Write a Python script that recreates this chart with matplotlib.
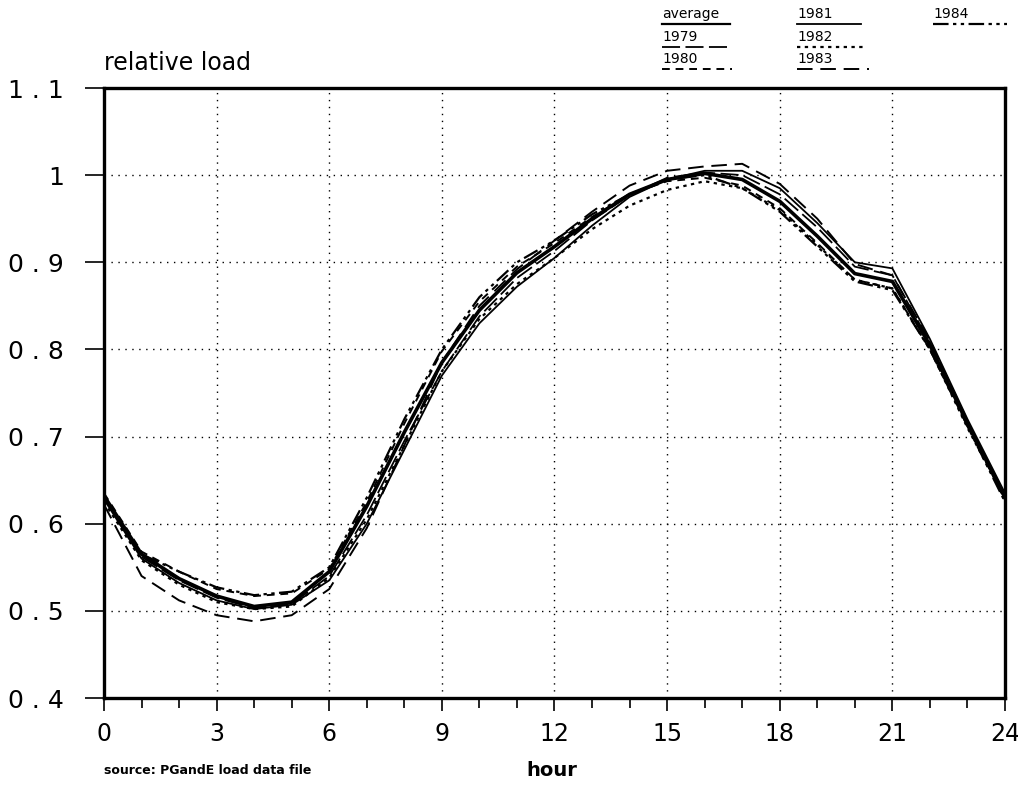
import matplotlib
matplotlib.use("Agg")
import matplotlib.pyplot as plt
from matplotlib.lines import Line2D
from matplotlib.ticker import MultipleLocator

hours = list(range(25))
average = [0.632, 0.565, 0.537, 0.517, 0.505, 0.510, 0.545, 0.620, 0.705, 0.785, 0.845, 0.888, 0.918,
           0.950, 0.978, 0.995, 1.002, 0.995, 0.970, 0.930, 0.887, 0.878, 0.805, 0.715, 0.630]
y1979 = [0.630, 0.562, 0.535, 0.515, 0.503, 0.508, 0.540, 0.610, 0.695, 0.775, 0.838, 0.882, 0.913,
         0.948, 0.977, 0.997, 1.003, 1.000, 0.978, 0.940, 0.895, 0.885, 0.808, 0.718, 0.632]
y1980 = [0.635, 0.568, 0.545, 0.525, 0.517, 0.520, 0.548, 0.625, 0.715, 0.798, 0.855, 0.895, 0.922,
         0.952, 0.978, 0.993, 0.997, 0.988, 0.962, 0.922, 0.880, 0.870, 0.800, 0.712, 0.628]
y1981 = [0.628, 0.560, 0.532, 0.512, 0.502, 0.507, 0.535, 0.600, 0.685, 0.770, 0.830, 0.872, 0.905,
         0.942, 0.975, 0.995, 1.005, 1.005, 0.985, 0.945, 0.900, 0.893, 0.812, 0.720, 0.635]
y1982 = [0.625, 0.558, 0.530, 0.510, 0.502, 0.505, 0.538, 0.605, 0.690, 0.775, 0.835, 0.875, 0.905,
         0.938, 0.965, 0.983, 0.993, 0.985, 0.960, 0.920, 0.880, 0.870, 0.800, 0.710, 0.628]
y1983 = [0.622, 0.540, 0.512, 0.495, 0.488, 0.495, 0.525, 0.595, 0.690, 0.785, 0.850, 0.892, 0.925,
         0.958, 0.988, 1.005, 1.010, 1.013, 0.990, 0.950, 0.898, 0.885, 0.810, 0.718, 0.630]
y1984 = [0.630, 0.565, 0.545, 0.527, 0.518, 0.522, 0.550, 0.630, 0.720, 0.800, 0.860, 0.900, 0.925,
         0.955, 0.978, 0.995, 1.000, 0.985, 0.958, 0.918, 0.878, 0.868, 0.800, 0.712, 0.625]

series_names = ["average", "1979", "1980", "1981", "1982", "1983", "1984"]
series_values = [average, y1979, y1980, y1981, y1982, y1983, y1984]
x_ticks = [0, 3, 6, 9, 12, 15, 18, 21, 24]
y_ticks = [0.4, 0.5, 0.6, 0.7, 0.8, 0.9, 1.0, 1.1]
y_tick_labels = ["0 . 4", "0 . 5", "0 . 6", "0 . 7", "0 . 8", "0 . 9", "1", "1 . 1"]

styles = {
    "average": dict(linestyle="-", linewidth=2.6),
    "1979": dict(linestyle=(0, (10, 3)), linewidth=1.3),
    "1980": dict(linestyle=(0, (4, 3)), linewidth=1.4),
    "1981": dict(linestyle="-", linewidth=1.3),
    "1982": dict(linestyle=(0, (1.5, 2)), linewidth=1.6),
    "1983": dict(linestyle=(0, (8, 4)), linewidth=1.4),
    "1984": dict(linestyle=(0, (7, 2, 1.5, 2, 1.5, 2)), linewidth=1.6),
}

W, H = 1018, 786
fig = plt.figure(figsize=(W / 100, H / 100), dpi=100)
ax = fig.add_axes([104 / W, 1 - 698 / H, (1005 - 104) / W, (698 - 88) / H])

for name, vals in zip(series_names, series_values):
    ax.plot(hours, vals, color="black", **styles[name])

ax.set_xlim(0, 24)
ax.set_ylim(0.4, 1.1)
ax.set_xticks(x_ticks)
ax.set_xticklabels([str(t) for t in x_ticks])
ax.xaxis.set_minor_locator(MultipleLocator(1))
ax.set_yticks(y_ticks)
ax.set_yticklabels(y_tick_labels)
ax.grid(True, which="major", linestyle=(0, (1, 4)), color="black", linewidth=1.0)
for sp in ax.spines.values():
    sp.set_linewidth(2.4)
ax.tick_params(axis="x", which="major", direction="out", length=9, width=1.2,
               labelsize=17, pad=8)
ax.tick_params(axis="x", which="minor", direction="out", length=7, width=1.2)
ax.tick_params(axis="y", which="major", direction="out", length=14, width=1.2,
               labelsize=18, pad=15)

fig.text(104 / W, 1 - 63 / H, "relative load", fontsize=17, va="center", ha="left")
fig.text(104 / W, 1 - 770 / H, "source: PGandE load data file", fontsize=9,
         fontweight="bold", va="center", ha="left")
fig.text(552 / W, 1 - 771 / H, "hour", fontsize=14, fontweight="bold",
         va="center", ha="center")

# legend
legend_pos = {
    "average": (662, 14), "1979": (662, 37), "1980": (662, 59),
    "1981": (797, 14), "1982": (797, 37), "1983": (797, 59),
    "1984": (933, 14),
}
legend_len = {
    "average": 68, "1979": 70, "1980": 70,
    "1981": 64, "1982": 68, "1983": 72, "1984": 74,
}
for name in series_names:
    px, py = legend_pos[name]
    fig.text(px / W, 1 - py / H, name, fontsize=10, va="center", ha="left")
    st = dict(styles[name])
    st["linewidth"] = min(st["linewidth"], 1.6)
    fig.add_artist(Line2D([px / W, (px + legend_len[name]) / W],
                          [1 - (py + 10) / H, 1 - (py + 10) / H],
                          color="black", transform=fig.transFigure, **st))

fig.savefig("out.png", dpi=100)
